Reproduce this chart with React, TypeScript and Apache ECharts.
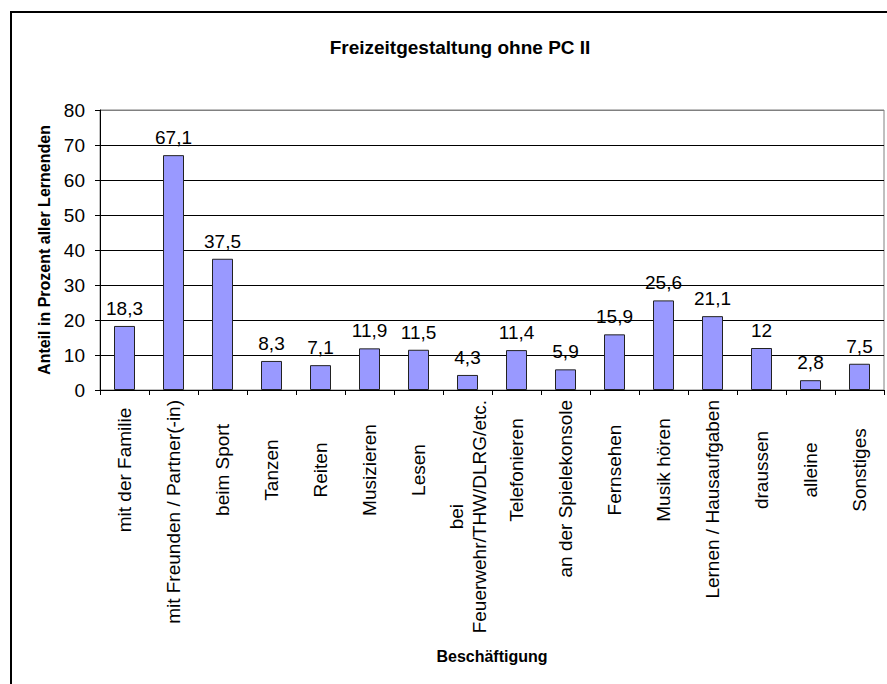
import React, { useEffect, useRef } from "react";
import * as echarts from "echarts";

const categories = [
  "mit der Familie",
  "mit Freunden / Partner(-in)",
  "beim Sport",
  "Tanzen",
  "Reiten",
  "Musizieren",
  "Lesen",
  "bei\nFeuerwehr/THW/DLRG/etc.",
  "Telefonieren",
  "an der Spielekonsole",
  "Fernsehen",
  "Musik hören",
  "Lernen / Hausaufgaben",
  "draussen",
  "alleine",
  "Sonstiges",
];
const values = [18.3, 67.1, 37.5, 8.3, 7.1, 11.9, 11.5, 4.3, 11.4, 5.9, 15.9, 25.6, 21.1, 12, 2.8, 7.5];
const titleText = "Freizeitgestaltung ohne PC II";
const yAxisTitle = "Anteil in Prozent aller Lernenden";
const xAxisTitle = "Beschäftigung";

const FONT = "Liberation Sans, Arial, sans-serif";
const LABEL_SIZE = 19;
const LABEL_BOX = 140;

export default function App() {
  const ref = useRef<HTMLDivElement>(null);
  useEffect(() => {
    document.body.style.margin = "0";
    const canvas = document.createElement("canvas");
    const ctx = canvas.getContext("2d")!;
    ctx.font = `${LABEL_SIZE}px "Liberation Sans", Arial, sans-serif`;
    const labelFormatter = (v: string) => {
      const lines = v.split("\n");
      const w = Math.max(...lines.map((l) => ctx.measureText(l).width));
      if (w < LABEL_BOX && lines.length === 1) return `{s|${v}}`;
      return lines.map((l) => `{c|${l}}`).join("\n");
    };
    const baseRich = { fontFamily: FONT, fontSize: LABEL_SIZE, color: "#000", lineHeight: 23 };

    const chart = echarts.init(ref.current!, null, { renderer: "svg" });
    chart.setOption({
      animation: false,
      backgroundColor: "#ffffff",
      textStyle: { fontFamily: FONT },
      grid: {
        left: 100,
        right: 3,
        top: 110,
        bottom: 294,
        show: true,
        borderColor: "#808080",
        borderWidth: 1,
        backgroundColor: "transparent",
      },
      graphic: [
        {
          type: "rect",
          shape: { x: 11, y: 12, width: 1000, height: 1000 },
          style: { fill: "none", stroke: "#000", lineWidth: 2 },
          silent: true,
        },
        {
          type: "text",
          x: 460,
          y: 47,
          style: {
            text: titleText,
            fontFamily: FONT,
            fontSize: 19,
            fontWeight: "bold",
            fill: "#000",
            textAlign: "center",
            textVerticalAlign: "middle",
          },
        },
      ],
      xAxis: {
        type: "category",
        data: categories,
        boundaryGap: true,
        name: xAxisTitle,
        nameLocation: "middle",
        nameGap: 258,
        nameTextStyle: { fontFamily: FONT, fontSize: 16, fontWeight: "bold", color: "#000" },
        axisLine: { lineStyle: { color: "#000", width: 1 } },
        axisTick: { show: true, alignWithLabel: false, length: 5, lineStyle: { color: "#000" } },
        axisLabel: {
          rotate: 90,
          interval: 0,
          fontFamily: FONT,
          fontSize: LABEL_SIZE,
          color: "#000",
          margin: 10,
          lineHeight: 23,
          formatter: labelFormatter,
          rich: {
            s: { ...baseRich, width: LABEL_BOX, align: "center" },
            c: { ...baseRich, align: "center" },
          },
        },
      },
      yAxis: {
        type: "value",
        min: 0,
        max: 80,
        interval: 10,
        name: yAxisTitle,
        nameLocation: "middle",
        nameGap: 48,
        nameTextStyle: { fontFamily: FONT, fontSize: 16, fontWeight: "bold", color: "#000" },
        axisLine: { show: true, lineStyle: { color: "#000", width: 1 } },
        axisTick: { show: true, length: 5, lineStyle: { color: "#000" } },
        axisLabel: { fontFamily: FONT, fontSize: LABEL_SIZE, color: "#000", margin: 15 },
        splitLine: {
          show: true,
          lineStyle: {
            color: ["#000", "#000", "#000", "#000", "#000", "#000", "#000", "#000", "#808080"],
            width: 1,
          },
        },
      },
      series: [
        {
          type: "bar",
          data: values,
          barWidth: 21,
          itemStyle: { color: "#9999FF", borderColor: "#222", borderWidth: 1 },
          label: {
            show: true,
            position: "top",
            distance: 8,
            fontFamily: FONT,
            fontSize: LABEL_SIZE,
            color: "#000",
            formatter: (p: any) => String(p.value).replace(".", ","),
          },
        },
      ],
    });
    return () => chart.dispose();
  }, []);
  return <div ref={ref} style={{ width: 887, height: 684 }} />;
}
